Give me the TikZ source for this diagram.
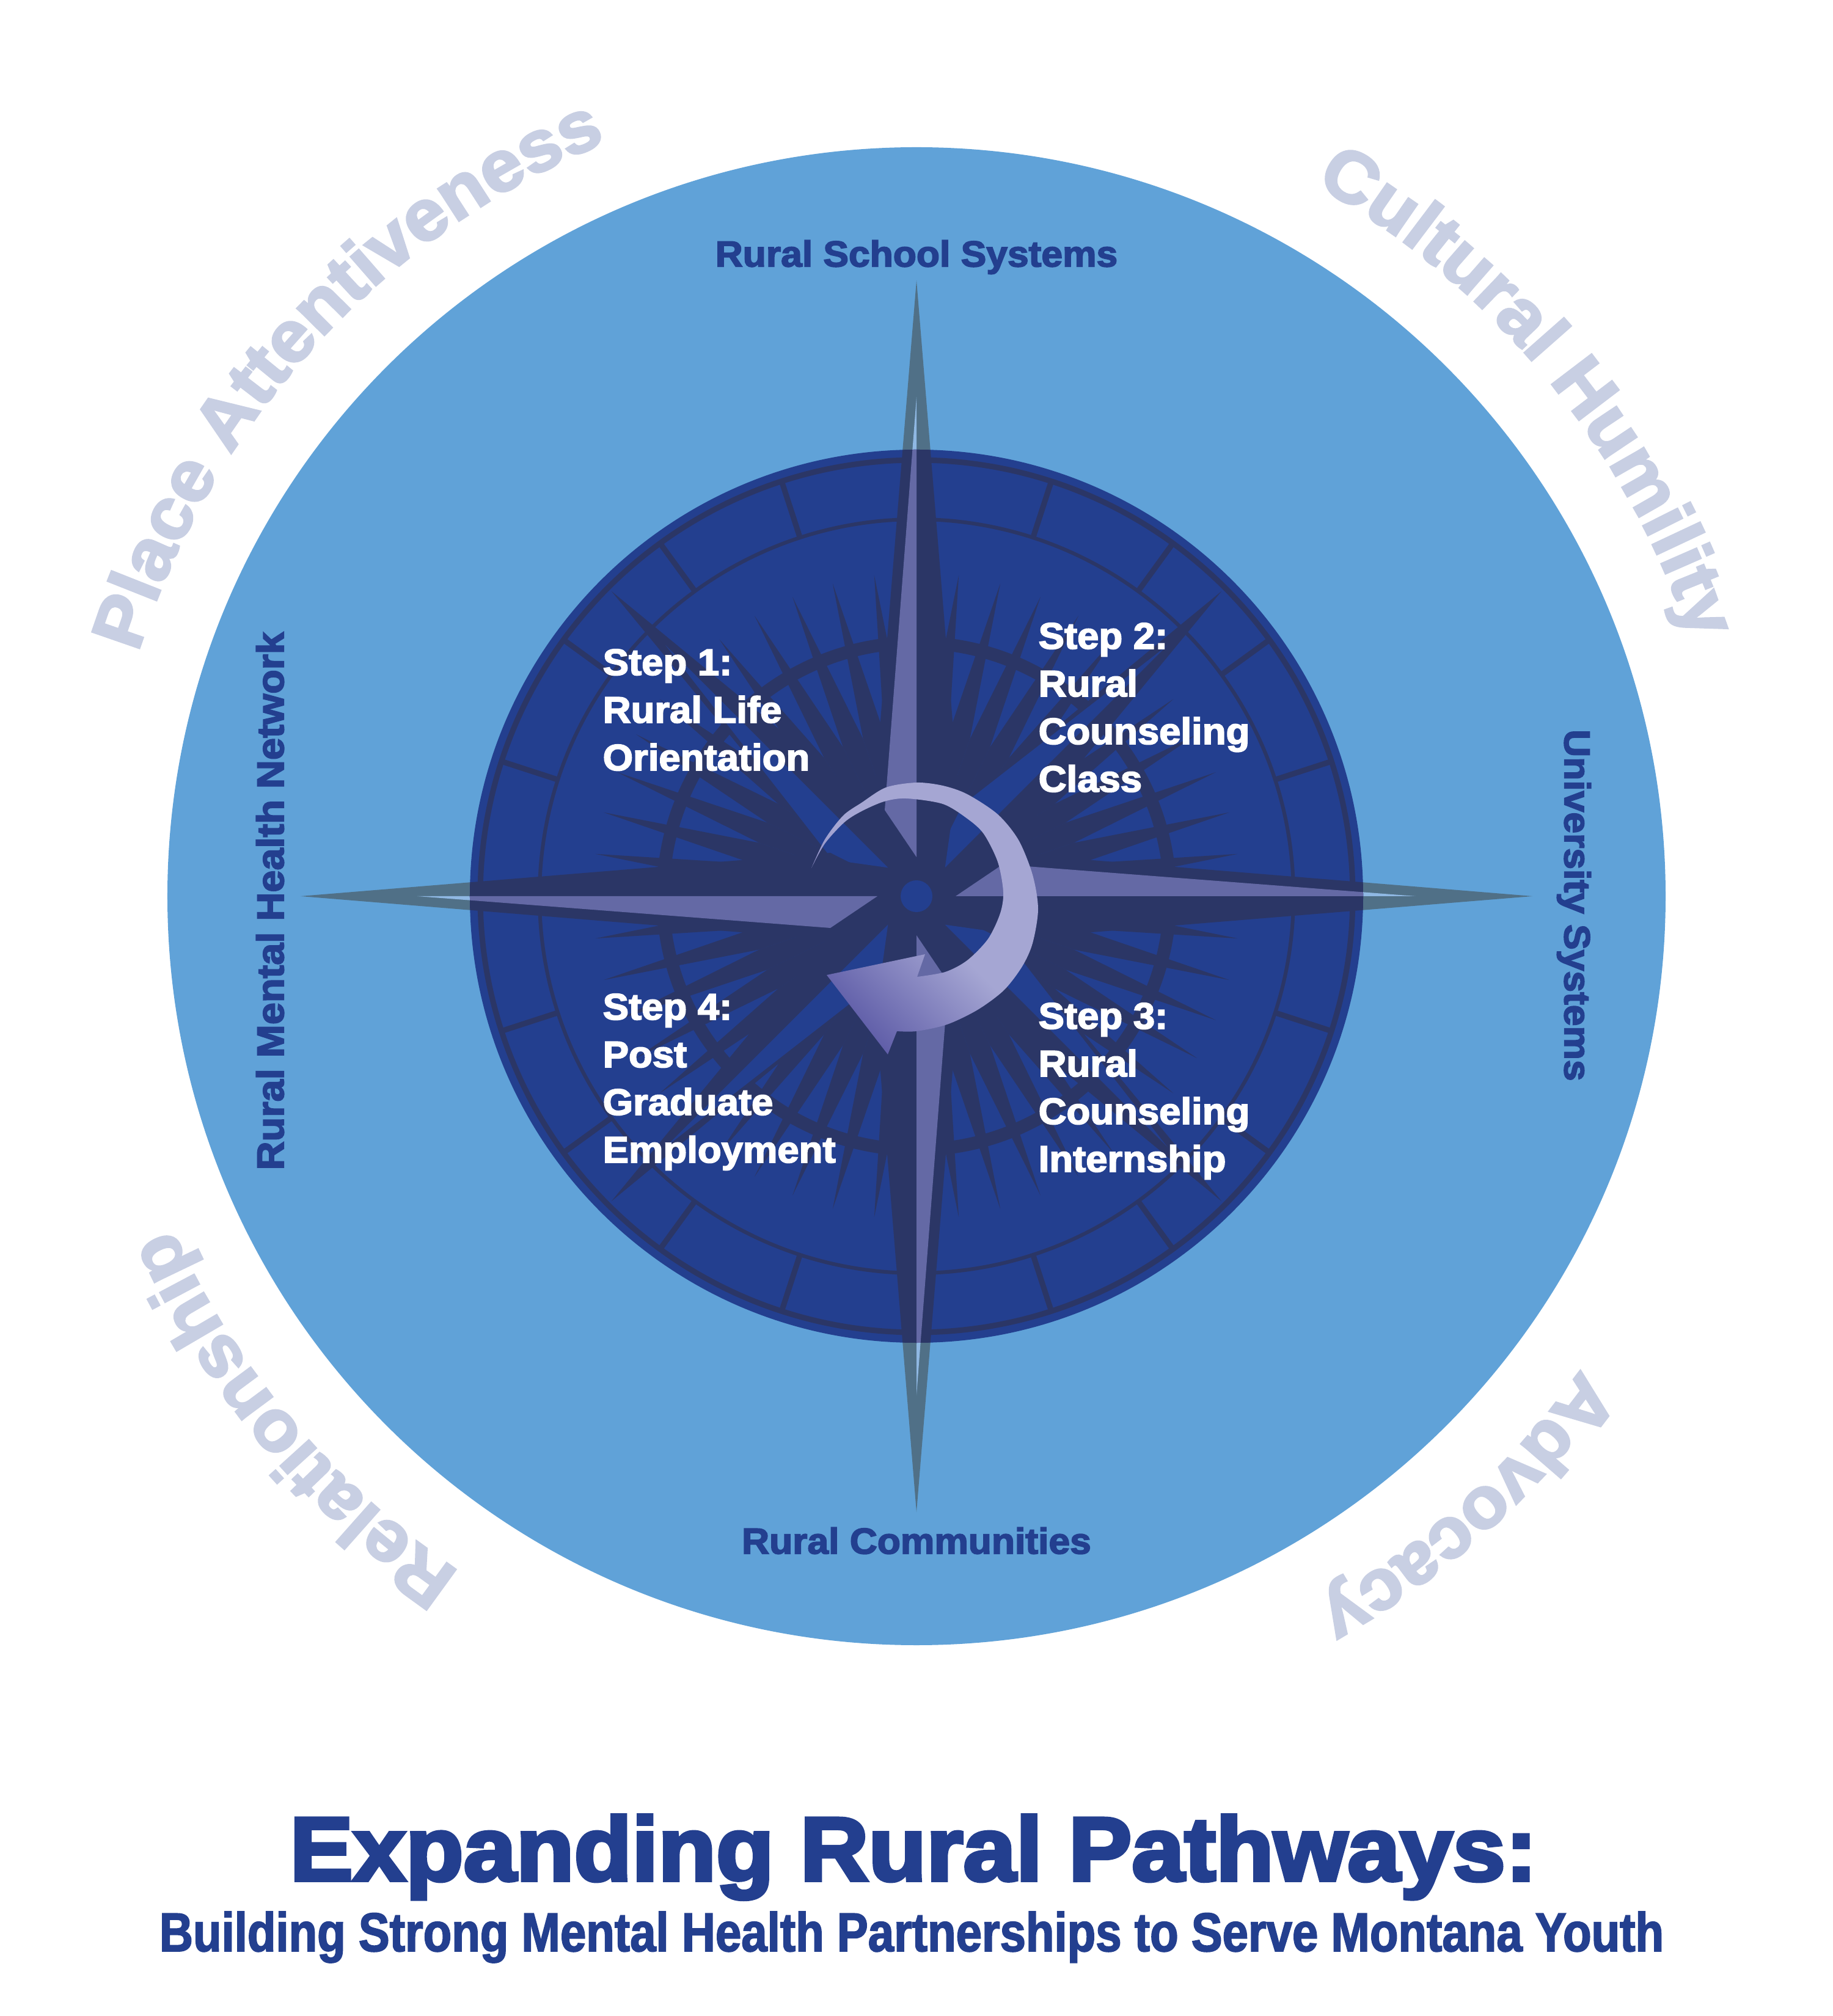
\documentclass[tikz,border=0pt]{standalone}
\usepackage{fontspec}
\usetikzlibrary{decorations.text}
\newfontfamily\heavyfont[BoldFeatures={FakeBold=3,FakeStretch=1.05}]{Liberation Sans}
\newfontfamily\titlefont[BoldFeatures={FakeBold=4,FakeStretch=1.05}]{Liberation Sans}
\newfontfamily\narrowfont[BoldFeatures={FakeBold=2,FakeStretch=.85}]{Liberation Sans}
\newcommand{\curvefont}{\heavyfont\bfseries\fontsize{33.6}{34}\selectfont}
\definecolor{skyblue}{HTML}{60A2D8}
\definecolor{discblue}{HTML}{233F8F}
\definecolor{navy}{HTML}{2B3666}
\definecolor{sliver}{HTML}{6469A5}
\definecolor{tealout}{HTML}{507087}
\definecolor{paleout}{HTML}{8FB8E3}
\definecolor{arrowhigh}{HTML}{A5A6D3}
\definecolor{arrowlow}{HTML}{5F5DA8}
\definecolor{curvegrey}{HTML}{C8CFE3}
\tikzset{
  stepnode/.style={anchor=north west, inner sep=0pt, align=left, text=white,
    font=\heavyfont\bfseries\fontsize{17.2}{22.2}\selectfont},
  sidenode/.style={inner sep=0pt, text=discblue, font=\heavyfont\bfseries\fontsize{16.9}{18}\selectfont},
  curvetext/.style={decorate, decoration={text along path, text align=center,
    text color=curvegrey, text={|\curvefont|#1}}}
}
\begin{document}
\begin{tikzpicture}
  \useasboundingbox (-15,-18.33) rectangle (15,14.67);
  \fill[white] (-15,-18.33) rectangle (15,14.67);
  \fill[skyblue] (0,0) circle (12.26);
  \foreach \a in {0,90,180,270} {
    \fill[tealout, rotate=\a] (0,10.08) -- (.71,1.41) -- (-.71,1.41) -- cycle;
    \fill[paleout, rotate=\a] (0,8.17) -- (-.52,1.41) -- (0,.64) -- cycle;
  }
  \fill[discblue] (0,0) circle (7.31);
  \draw[navy, line width=.09cm] (0,0) circle (7.14);
  \draw[navy, line width=.06cm] (0,0) circle (6.17);
  \draw[navy, line width=.21cm] (0,0) circle (4.15);
  \foreach \a in {18,36,54,72,108,126,144,162,198,216,234,252,288,306,324,342}
    \draw[navy, line width=.09cm] (\a:6.17) -- (\a:7.14);
  \begin{scope}
    \clip (0,0) circle (7.31);
    \foreach \a in {7.5,15,22.5,30,37.5,52.5,60,67.5,75,82.5} \foreach \q in {0,90,180,270}
      \fill[navy, rotate=\q] (0,0) -- (\a-3.75:2.72) -- (\a:5.3) -- (\a+3.75:2.72) -- cycle;
    \foreach \a in {45,135,225,315} {
      \fill[navy, rotate=\a-90] (0,0) -- (-.55,1.39) -- (0,7.06) -- (.55,1.39) -- cycle;
      \fill[discblue, rotate=\a-90] (0,.66) -- (-.55,1.39) -- (0,5.81) -- cycle;
    }
    \foreach \a in {0,90,180,270} {
      \fill[navy, rotate=\a] (0,0) -- (-.71,1.41) -- (0,10.08) -- (.71,1.41) -- cycle;
      \fill[sliver, rotate=\a] (0,.64) -- (-.52,1.41) -- (0,8.17) -- cycle;
    }
  \end{scope}
  \fill[discblue] (0,0) circle (.26);
  \shade[left color=arrowlow, right color=arrowhigh, middle color=arrowhigh, shading angle=135]
    plot[smooth] coordinates {(-1.72,.46) (-1.50,.93) (-1.20,1.32) (-.90,1.53) (-.50,1.78) (0,1.86)
      (.43,1.81) (.83,1.67) (1.33,1.34) (1.67,.92) (1.90,.35) (1.99,-.21) (1.90,-.77) (1.73,-1.15)
      (1.43,-1.54) (1.00,-1.86) (.50,-2.10) (0,-2.21) (-.32,-2.21)}
    -- (-.47,-2.59) -- (-1.47,-1.29) -- (.14,-.95) -- (.01,-1.32)
    -- plot[smooth] coordinates {(.01,-1.32) (.47,-1.24) (.83,-1.05) (1.17,-.70) (1.37,-.28) (1.42,.07)
      (1.33,.56) (1.10,1.02) (.83,1.27) (.43,1.51) (-.17,1.60) (-.53,1.55) (-.90,1.39) (-1.18,1.21)
      (-1.50,.86) (-1.72,.46)} -- cycle;
  \node[stepnode] (step1) at (-5.14,4.05) {Step 1:\\Rural Life\\Orientation};
  \node[stepnode] (step2) at (1.99,4.48) {Step 2:\\Rural\\Counseling\\Class};
  \node[stepnode] (step3) at (1.99,-1.74) {Step 3:\\Rural\\Counseling\\Internship};
  \node[stepnode] (step4) at (-5.14,-1.59) {Step 4:\\Post\\Graduate\\Employment};
  \node[sidenode] (schools) at (0,10.46) {Rural School Systems};
  \node[sidenode] (communities) at (0,-10.55) {Rural Communities};
  \node[sidenode, rotate=-90] (university) at (10.76,-.15) {University Systems};
  \node[sidenode, rotate=90, font=\heavyfont\bfseries\fontsize{17.6}{18}\selectfont] (network) at (-10.58,-.08)
    {Rural Mental Health Network};
  \path[curvetext={Place Attentiveness}] (162.5:13.35) arc (162.5:112.5:13.35);
  \path[curvetext={Cultural Humility}] (61:13.35) arc (61:18:13.35);
  \path[curvetext={Advocacy}] (-35:13.35) arc (-35:-61:13.35);
  \path[curvetext={Relationship}] (-124:13.35) arc (-124:-156:13.35);
  \node[anchor=base, text=discblue, font=\titlefont\bfseries\fontsize{42}{42}\selectfont] (title) at (-.05,-16.11)
    {Expanding Rural Pathways:};
  \node[anchor=base, text=discblue, font=\narrowfont\bfseries\fontsize{25.5}{25.5}\selectfont] (subtitle) at (-.08,-17.27)
    {Building Strong Mental Health Partnerships to Serve Montana Youth};
\end{tikzpicture}
\end{document}
